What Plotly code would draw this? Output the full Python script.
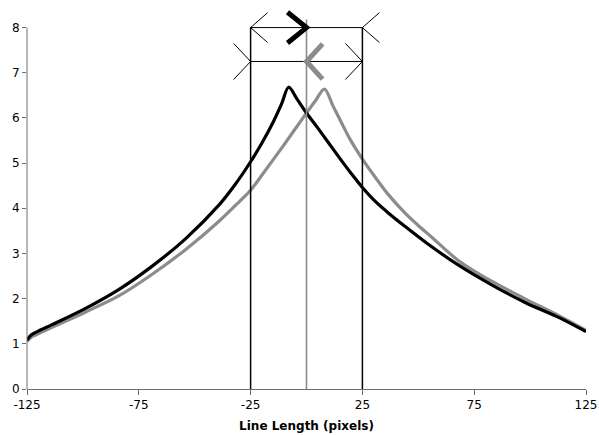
import plotly.graph_objects as go

# ---- data ----
x_black = [-125, -123, -120, -114, -99, -84, -69, -54, -39, -32, -25, -20, -15, -11, -8,
           -4, 0, 5, 10, 15, 20, 25, 31, 37, 44, 54, 68, 83, 98, 113, 125]
y_black = [1.08, 1.20, 1.28, 1.42, 1.78, 2.20, 2.72, 3.33, 4.08, 4.52, 5.03, 5.44, 5.90, 6.33, 6.68,
           6.40, 6.11, 5.78, 5.44, 5.10, 4.77, 4.46, 4.14, 3.88, 3.60, 3.22, 2.74, 2.30, 1.91, 1.58, 1.27]

x_grey = [-125, -123, -120, -114, -99, -84, -69, -54, -39, -30, -25, -20, -10, -5, 0,
          4, 8, 12, 16, 19, 22, 25, 31, 37, 44, 50, 56, 68, 83, 98, 113, 125]
y_grey = [1.05, 1.15, 1.22, 1.36, 1.70, 2.06, 2.54, 3.09, 3.72, 4.15, 4.40, 4.73, 5.41, 5.76, 6.11,
          6.38, 6.64, 6.25, 5.86, 5.57, 5.32, 5.09, 4.67, 4.28, 3.90, 3.62, 3.36, 2.84, 2.38, 1.99, 1.62, 1.30]

window_edges = [-25, 25]      # black vertical markers
center_x = 0                  # grey vertical marker
center_top = 8.18
arrow_rows = [8, 7.25]        # top row, middle row
x_ticks = [-125, -75, -25, 25, 75, 125]
y_ticks = [0, 1, 2, 3, 4, 5, 6, 7, 8]
x_title = "Line Length (pixels)"

BLACK = "#000000"
GREY = "#8c8c8c"
AXIS = "#707070"

fig = go.Figure()
fig.add_trace(go.Scatter(x=x_grey, y=y_grey, mode="lines",
                         line=dict(color=GREY, width=3.2, shape="spline", smoothing=0.9),
                         showlegend=False))
fig.add_trace(go.Scatter(x=x_black, y=y_black, mode="lines",
                         line=dict(color=BLACK, width=3.2, shape="spline", smoothing=0.9),
                         showlegend=False))

shapes = []
# y axis line (drawn only from 0 to 8)
shapes.append(dict(type="line", xref="paper", yref="y", x0=0, x1=0, y0=y_ticks[0], y1=y_ticks[-1],
                   line=dict(color=AXIS, width=1)))
# vertical window markers
for xe in window_edges:
    shapes.append(dict(type="line", xref="x", yref="y", x0=xe, x1=xe, y0=0, y1=arrow_rows[0],
                       line=dict(color=BLACK, width=1.5)))
shapes.append(dict(type="line", xref="x", yref="y", x0=center_x, x1=center_x, y0=0, y1=center_top,
                   line=dict(color=GREY, width=1.6)))
# horizontal arrows
for yr in arrow_rows:
    shapes.append(dict(type="line", xref="x", yref="y", x0=window_edges[0], x1=window_edges[1],
                       y0=yr, y1=yr, line=dict(color=BLACK, width=1)))


def head(vx, vy, dx, dy, color, width):
    path = f"M {vx+dx},{vy+dy} L {vx},{vy} L {vx+dx},{vy-dy}"
    return dict(type="path", xref="x", yref="y", path=path, line=dict(color=color, width=width))


# small arrowheads, top row ("<" shapes)
shapes.append(head(window_edges[0], arrow_rows[0], 7.6, 0.33, BLACK, 1))
shapes.append(head(window_edges[1], arrow_rows[0], 7.6, 0.33, BLACK, 1))
# small arrowheads, middle row (">" shapes)
shapes.append(head(window_edges[0], arrow_rows[1], -7.6, 0.40, BLACK, 1))
shapes.append(head(window_edges[1], arrow_rows[1], -7.6, 0.40, BLACK, 1))
# big arrowheads at centre
shapes.append(head(center_x, arrow_rows[0], -8.5, 0.34, BLACK, 5))
shapes.append(head(center_x, arrow_rows[1], 7.2, 0.39, GREY, 5))

fig.update_layout(
    width=599, height=435,
    margin=dict(l=27, r=13, t=4.9, b=45.5),
    paper_bgcolor="white", plot_bgcolor="white",
    font=dict(family="DejaVu Sans", size=12, color="black"),
    shapes=shapes,
    showlegend=False,
)
fig.update_xaxes(range=[-125, 125], tickvals=x_ticks, ticktext=[str(v) for v in x_ticks],
                 showgrid=False, zeroline=False, showline=True, linecolor=AXIS, linewidth=1,
                 ticks="outside", ticklen=5, tickcolor=AXIS, tickwidth=1,
                 tickfont=dict(size=12),
                 title=dict(text="<b>" + x_title + "</b>", font=dict(size=12), standoff=10),
                 automargin=False)
fig.update_yaxes(range=[0, 8.5], tickvals=y_ticks, ticktext=[str(v) for v in y_ticks],
                 showgrid=False, zeroline=False, showline=False,
                 ticks="outside", ticklen=4, tickcolor=AXIS, tickwidth=1,
                 tickfont=dict(size=12), automargin=False)

# remove the page's default body margin so the 599x435 figure fills the window exactly
fig.write_html("out.html",
               config={"displayModeBar": False},
               post_script="document.body.style.margin='0';document.body.style.overflow='hidden';")
